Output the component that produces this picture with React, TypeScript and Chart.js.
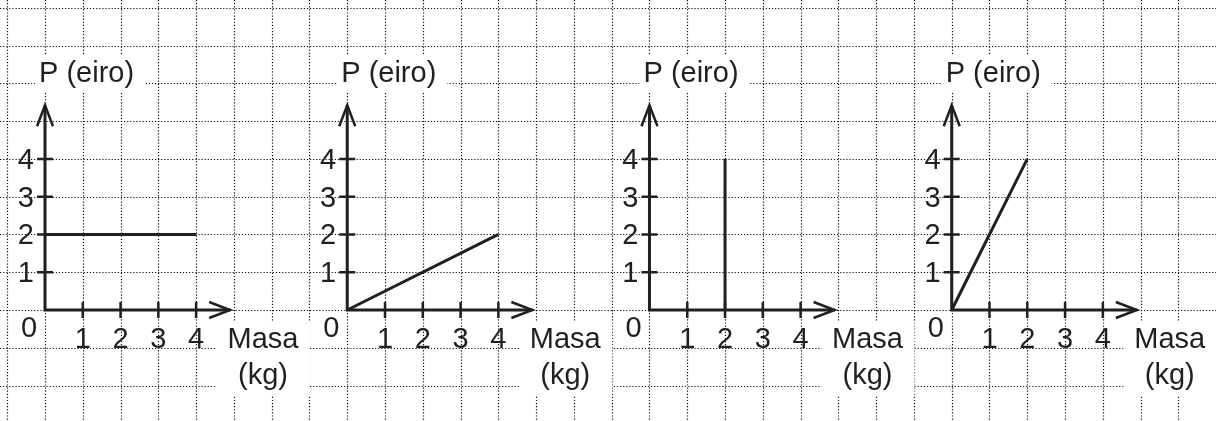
import React, { useEffect, useRef } from "react";
import { Chart, registerables } from "chart.js";

Chart.register(...registerables);

// Axis tick values shared by every small graph
const massTicks = [1, 2, 3, 4];
const priceTicks = [1, 2, 3, 4];

// Four price-vs-mass graphs (mass in kg, price in euro)
const graphAMass = [0, 4];
const graphAPrice = [2, 2];

const graphBMass = [0, 4];
const graphBPrice = [0, 2];

const graphCMass = [2, 2];
const graphCPrice = [0, 4];

const graphDMass = [0, 2];
const graphDPrice = [0, 4];

const yTitle = "P (eiro)";
const xTitleLines = ["Masa", "(kg)"];

const W = 1216;
const H = 421;
const CELL = 37.78; // one grid square, px
const ORIGIN_X = 45; // first graph origin, px
const ORIGIN_Y = 310;
const PANEL_CELLS = 8; // graphs are eight squares apart
const INK = "#231f20";
const FAMILY = '"Liberation Sans", Arial, sans-serif';
const DIGIT_FONT = "29px " + FAMILY;
const TITLE_FONT = "29px " + FAMILY;

const series = [
  { mass: graphAMass, price: graphAPrice },
  { mass: graphBMass, price: graphBPrice },
  { mass: graphCMass, price: graphCPrice },
  { mass: graphDMass, price: graphDPrice },
];

const paperPlugin = {
  id: "paper",
  beforeDatasetsDraw(chart: any) {
    const { ctx, scales } = chart;
    const ys = scales.y;
    ctx.save();
    ctx.fillStyle = "#ffffff";
    ctx.fillRect(0, 0, W, H);

    // dotted squared paper
    const gx = scales.x0;
    ctx.strokeStyle = "#111111";
    ctx.lineWidth = 1.2;
    ctx.setLineDash([1.2, 1.9]);
    for (let i = Math.ceil(gx.min); i <= Math.floor(gx.max); i++) {
      const p = Math.round(gx.getPixelForValue(i)) + 0.5;
      ctx.beginPath();
      ctx.moveTo(p, 0);
      ctx.lineTo(p, H);
      ctx.stroke();
    }
    for (let j = Math.ceil(ys.min); j <= Math.floor(ys.max); j++) {
      const p = Math.round(ys.getPixelForValue(j)) + 0.5;
      ctx.beginPath();
      ctx.moveTo(0, p);
      ctx.lineTo(W, p);
      ctx.stroke();
    }
    ctx.setLineDash([]);

    const y0 = ys.getPixelForValue(0);
    for (let k = 0; k < 4; k++) {
      const xs = scales["x" + k];
      const ox = xs.getPixelForValue(0);

      // blank paper behind the axis titles
      ctx.fillStyle = "#ffffff";
      ctx.fillRect(ox - 10, 54, 110, 39);
      ctx.fillRect(ox + 172, y0 + 11, 93, 75);

      // axes with arrow heads
      const tipX = xs.getPixelForValue(4.9);
      const tipY = ys.getPixelForValue(5.42);
      ctx.strokeStyle = INK;
      ctx.lineWidth = 3;
      ctx.lineJoin = "miter";
      ctx.beginPath();
      ctx.moveTo(ox, tipY);
      ctx.lineTo(ox, y0);
      ctx.lineTo(tipX, y0);
      ctx.stroke();
      ctx.lineWidth = 2.5;
      ctx.beginPath();
      ctx.moveTo(ox - 8, tipY + 21);
      ctx.lineTo(ox, tipY);
      ctx.lineTo(ox + 8, tipY + 21);
      ctx.moveTo(tipX - 21, y0 - 8);
      ctx.lineTo(tipX, y0);
      ctx.lineTo(tipX - 21, y0 + 8);
      ctx.stroke();

      // tick marks
      ctx.lineWidth = 2.5;
      ctx.beginPath();
      for (const v of priceTicks) {
        const p = ys.getPixelForValue(v);
        ctx.moveTo(ox - 8, p);
        ctx.lineTo(ox + 8, p);
      }
      for (const v of massTicks) {
        const p = xs.getPixelForValue(v);
        ctx.moveTo(p, y0 - 8);
        ctx.lineTo(p, y0 + 8);
      }
      ctx.stroke();

      // labels
      ctx.fillStyle = INK;
      ctx.font = DIGIT_FONT;
      ctx.textBaseline = "alphabetic";
      ctx.textAlign = "right";
      for (const v of priceTicks) {
        ctx.fillText(String(v), ox - 11, ys.getPixelForValue(v) + 10);
      }
      ctx.textAlign = "center";
      ctx.fillText("0", ox - 16, y0 + 27);
      for (const v of massTicks) {
        ctx.fillText(String(v), xs.getPixelForValue(v), y0 + 38);
      }
      ctx.font = TITLE_FONT;
      ctx.fillText(xTitleLines[0], ox + 218, y0 + 38);
      ctx.fillText(xTitleLines[1], ox + 218, y0 + 74);
      ctx.textAlign = "left";
      ctx.fillText(yTitle, ox - 6, ys.getPixelForValue(6) - 1);
    }
    ctx.restore();
  },
};

export default function App() {
  const ref = useRef<HTMLCanvasElement | null>(null);

  useEffect(() => {
    document.body.style.margin = "0";
    const canvas = ref.current;
    if (!canvas) return;

    const scales: any = {
      y: {
        type: "linear",
        display: false,
        min: -(H - ORIGIN_Y) / CELL,
        max: ORIGIN_Y / CELL,
      },
    };
    for (let k = 0; k < 4; k++) {
      const ox = ORIGIN_X + k * PANEL_CELLS * CELL;
      scales["x" + k] = {
        type: "linear",
        display: false,
        min: -ox / CELL,
        max: (W - ox) / CELL,
      };
    }

    const chart = new Chart(canvas, {
      type: "line",
      data: {
        datasets: series.map((s, k) => ({
          label: "graph " + (k + 1),
          data: s.mass.map((m, i) => ({ x: m, y: s.price[i] })),
          xAxisID: "x" + k,
          yAxisID: "y",
          borderColor: INK,
          borderWidth: 3,
          pointRadius: 0,
          fill: false,
          tension: 0,
        })),
      },
      options: {
        animation: false,
        responsive: false,
        events: [],
        layout: { padding: 0 },
        plugins: {
          legend: { display: false },
          tooltip: { enabled: false },
        },
        scales,
      },
      plugins: [paperPlugin],
    });
    return () => chart.destroy();
  }, []);

  return (
    <canvas
      ref={ref}
      width={W}
      height={H}
      style={{ display: "block", width: W, height: H }}
    />
  );
}
